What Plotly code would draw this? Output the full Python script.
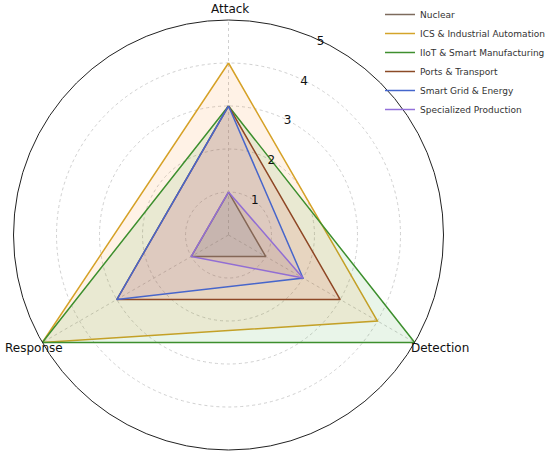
import plotly.graph_objects as go

# axes of the radar, clockwise from the top
categories = ['Attack', 'Detection', 'Response']

sectors = ['Nuclear', 'ICS & Industrial Automation', 'IIoT & Smart Manufacturing',
           'Ports & Transport', 'Smart Grid & Energy', 'Specialized Production']

nuclear = [1, 1, 1]
ics = [4, 4, 5]
iiot = [3, 5, 5]
ports = [3, 3, 3]
smart_grid = [3, 2, 3]
specialized = [1, 2, 1]

values = [nuclear, ics, iiot, ports, smart_grid, specialized]

line_colors = ['#7d6b5d', '#d4a42a', '#3f8f2f', '#8b4a26', '#4466cc', '#9370db']
# fills follow the default matplotlib cycle, not the line colours
fill_colors = ['rgba(31,119,180,0.1)', 'rgba(255,127,14,0.1)', 'rgba(44,160,44,0.1)',
               'rgba(214,39,40,0.1)', 'rgba(148,103,189,0.1)', 'rgba(140,86,75,0.1)']

W, H = 550, 459

fig = go.Figure()
for name, vals, lc, fc in zip(sectors, values, line_colors, fill_colors):
    r = vals + vals[:1]
    theta = categories + categories[:1]
    # outline (this one goes in the legend, as a plain line)
    fig.add_trace(go.Scatterpolar(
        r=r, theta=theta, name=name, mode='lines',
        line=dict(color=lc, width=1.5),
    ))
    # translucent fill on top, like plot() then fill()
    fig.add_trace(go.Scatterpolar(
        r=r, theta=theta, name=name, mode='none',
        fill='toself', fillcolor=fc, showlegend=False, hoverinfo='skip',
    ))

# category labels sit right on the outer ring, like matplotlib does it
label_pos = {'Attack': (230, 9), 'Detection': (440, 348), 'Response': (34, 348)}
for cat in categories:
    px_, py_ = label_pos[cat]
    fig.add_annotation(x=px_ / W, y=1 - py_ / H, xref='paper', yref='paper',
                       text=cat, showarrow=False, xanchor='center', yanchor='middle',
                       font=dict(size=12, color='#111'))

fig.update_layout(
    width=W, height=H,
    margin=dict(l=0, r=0, t=0, b=0),
    paper_bgcolor='white',
    font=dict(family='DejaVu Sans', size=12, color='#222'),
    polar=dict(
        domain=dict(x=[13.5 / W, 443.5 / W], y=[9 / H, 439 / H]),
        bgcolor='white',
        angularaxis=dict(
            rotation=90, direction='clockwise',
            showline=True, linecolor='#222', linewidth=1,
            gridcolor='#d0d0d0', griddash='dot', gridwidth=1,
            ticks='', showticklabels=False,
        ),
        radialaxis=dict(
            range=[0, 5], tickvals=[1, 2, 3, 4, 5],
            angle=67.5, tickangle=67.5, showline=False, ticks='',
            gridcolor='#d0d0d0', griddash='dot', gridwidth=1,
            tickfont=dict(size=12, color='#111'),
        ),
    ),
    legend=dict(
        x=380 / W, y=1.0, xanchor='left', yanchor='top',
        font=dict(size=9, color='#333'),
        bgcolor='rgba(255,255,255,0)',
    ),
)

fig.write_html('out.html', config={'displayModeBar': False},
               post_script="document.body.style.margin='0';")
